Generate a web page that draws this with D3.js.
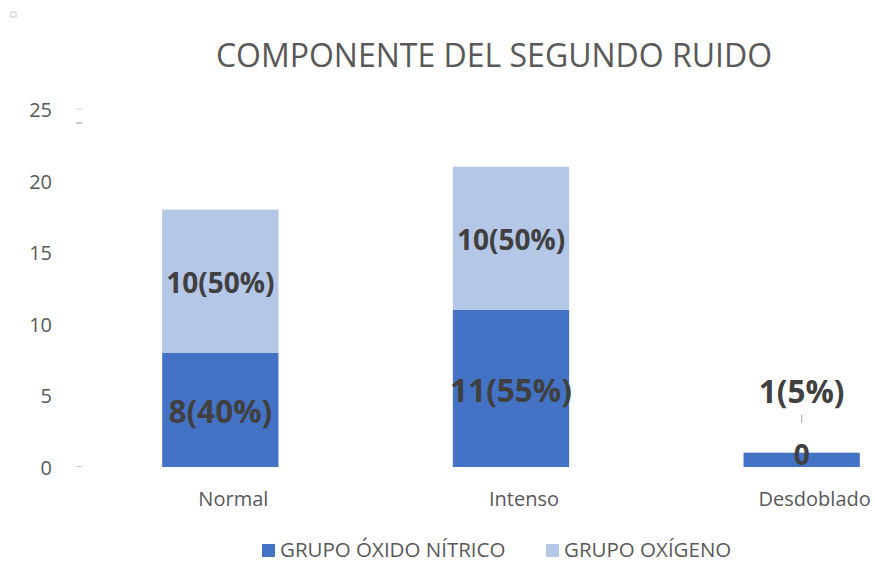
<!DOCTYPE html>
<meta charset="utf-8">
<body style="margin:0;background:#fff">
<style>
  text { font-family: "Open Sans", "Noto Sans", sans-serif; }
  .title { font-size: 32px; fill: #595959; }
  .tick text { font-size: 20px; fill: #595959; }
  .lbl { font-weight: bold; fill: #404040; }
  .legend text { font-size: 20.5px; fill: #595959; }
</style>
<svg width="875" height="563"></svg>
<script src="https://d3js.org/d3.v7.min.js"></script>
<script>
var categories = ["Normal", "Intenso", "Desdoblado"];
var seriesNames = ["GRUPO ÓXIDO NÍTRICO", "GRUPO OXÍGENO"];
var oxidoValues = [8, 11, 1];
var oxigenoValues = [10, 10, 0];
var oxidoLabels = ["8(40%)", "11(55%)", "1(5%)"];
var oxigenoLabels = ["10(50%)", "10(50%)", "0"];
var yTicks = [0, 5, 10, 15, 20, 25];
var colors = ["#4472C4", "#B4C7E7"];
var labelSizes = [31.5, 28];

var svg = d3.select("svg");

var x = d3.scaleBand().domain(categories).range([75, 947]).paddingInner(0.6).paddingOuter(0.3);
var y = d3.scaleLinear().domain([0, 25]).range([467, 109.5]);

// little square at top-left corner
svg.append("rect").attr("x", 11).attr("y", 12).attr("width", 5).attr("height", 5)
   .attr("fill", "none").attr("stroke", "#c8c8c8").attr("stroke-width", 1);

svg.append("text").attr("class", "title")
   .attr("x", 494).attr("y", 67).attr("text-anchor", "middle")
   .text("COMPONENTE DEL SEGUNDO RUIDO");

// y axis labels
var yAxis = svg.append("g").attr("transform", "translate(52,0)")
   .call(d3.axisLeft(y).tickValues(yTicks).tickSize(0).tickPadding(0));
yAxis.select(".domain").remove();
yAxis.selectAll(".tick text").attr("dy", "0.36em");

// tiny tick dashes
svg.append("g").selectAll("line").data([25, 0]).enter().append("line")
   .attr("x1", 76).attr("x2", 82)
   .attr("y1", function(d) { return y(d) - 0.5; })
   .attr("y2", function(d) { return y(d) - 0.5; })
   .attr("stroke", "#d0d0d0").attr("stroke-width", 1);
svg.append("line").attr("x1", 76).attr("x2", 82).attr("y1", 123).attr("y2", 123)
   .attr("stroke", "#c8c8c8").attr("stroke-width", 2);

// category labels
var xAxis = svg.append("g").attr("transform", "translate(13,467)")
   .call(d3.axisBottom(x).tickSize(0).tickPadding(25));
xAxis.select(".domain").remove();

var rows = categories.map(function(c, i) {
  return { cat: c, a: oxidoValues[i], b: oxigenoValues[i] };
});
var stack = d3.stack().keys(["a", "b"])(rows);
var labels = [oxidoLabels, oxigenoLabels];

var layers = svg.append("g").selectAll("g").data(stack).enter().append("g")
   .attr("fill", function(d, i) { return colors[i]; });

layers.selectAll("rect").data(function(d) { return d; }).enter().append("rect")
   .attr("x", function(d) { return x(d.data.cat); })
   .attr("width", x.bandwidth())
   .attr("y", function(d) { return y(d[1]); })
   .attr("height", function(d) { return y(d[0]) - y(d[1]); });

stack.forEach(function(layer, si) {
  layer.forEach(function(d, i) {
    var cx = x(d.data.cat) + x.bandwidth() / 2;
    var cy = (y(d[0]) + y(d[1])) / 2 + 2;
    var small = (d[1] - d[0]) > 0 && (y(d[0]) - y(d[1])) < 30;
    if (small) {
      // label pushed up with leader line
      svg.append("line").attr("x1", cx).attr("x2", cx)
         .attr("y1", cy - 47).attr("y2", cy - 39)
         .attr("stroke", "#a6a6a6").attr("stroke-width", 1);
      cy = cy - 70;
    }
    svg.append("text").attr("class", "lbl")
       .style("font-size", labelSizes[si] + "px")
       .attr("x", cx).attr("y", cy).attr("dy", "0.36em")
       .attr("text-anchor", "middle")
       .text(labels[si][i]);
  });
});

// legend
var legend = svg.append("g").attr("class", "legend");
var legX = [262, 546];
seriesNames.forEach(function(n, i) {
  legend.append("rect").attr("x", legX[i]).attr("y", 544)
        .attr("width", 13).attr("height", 13).attr("fill", colors[i]);
  legend.append("text").attr("x", legX[i] + 18).attr("y", 557).text(n);
});
</script>
</body>
